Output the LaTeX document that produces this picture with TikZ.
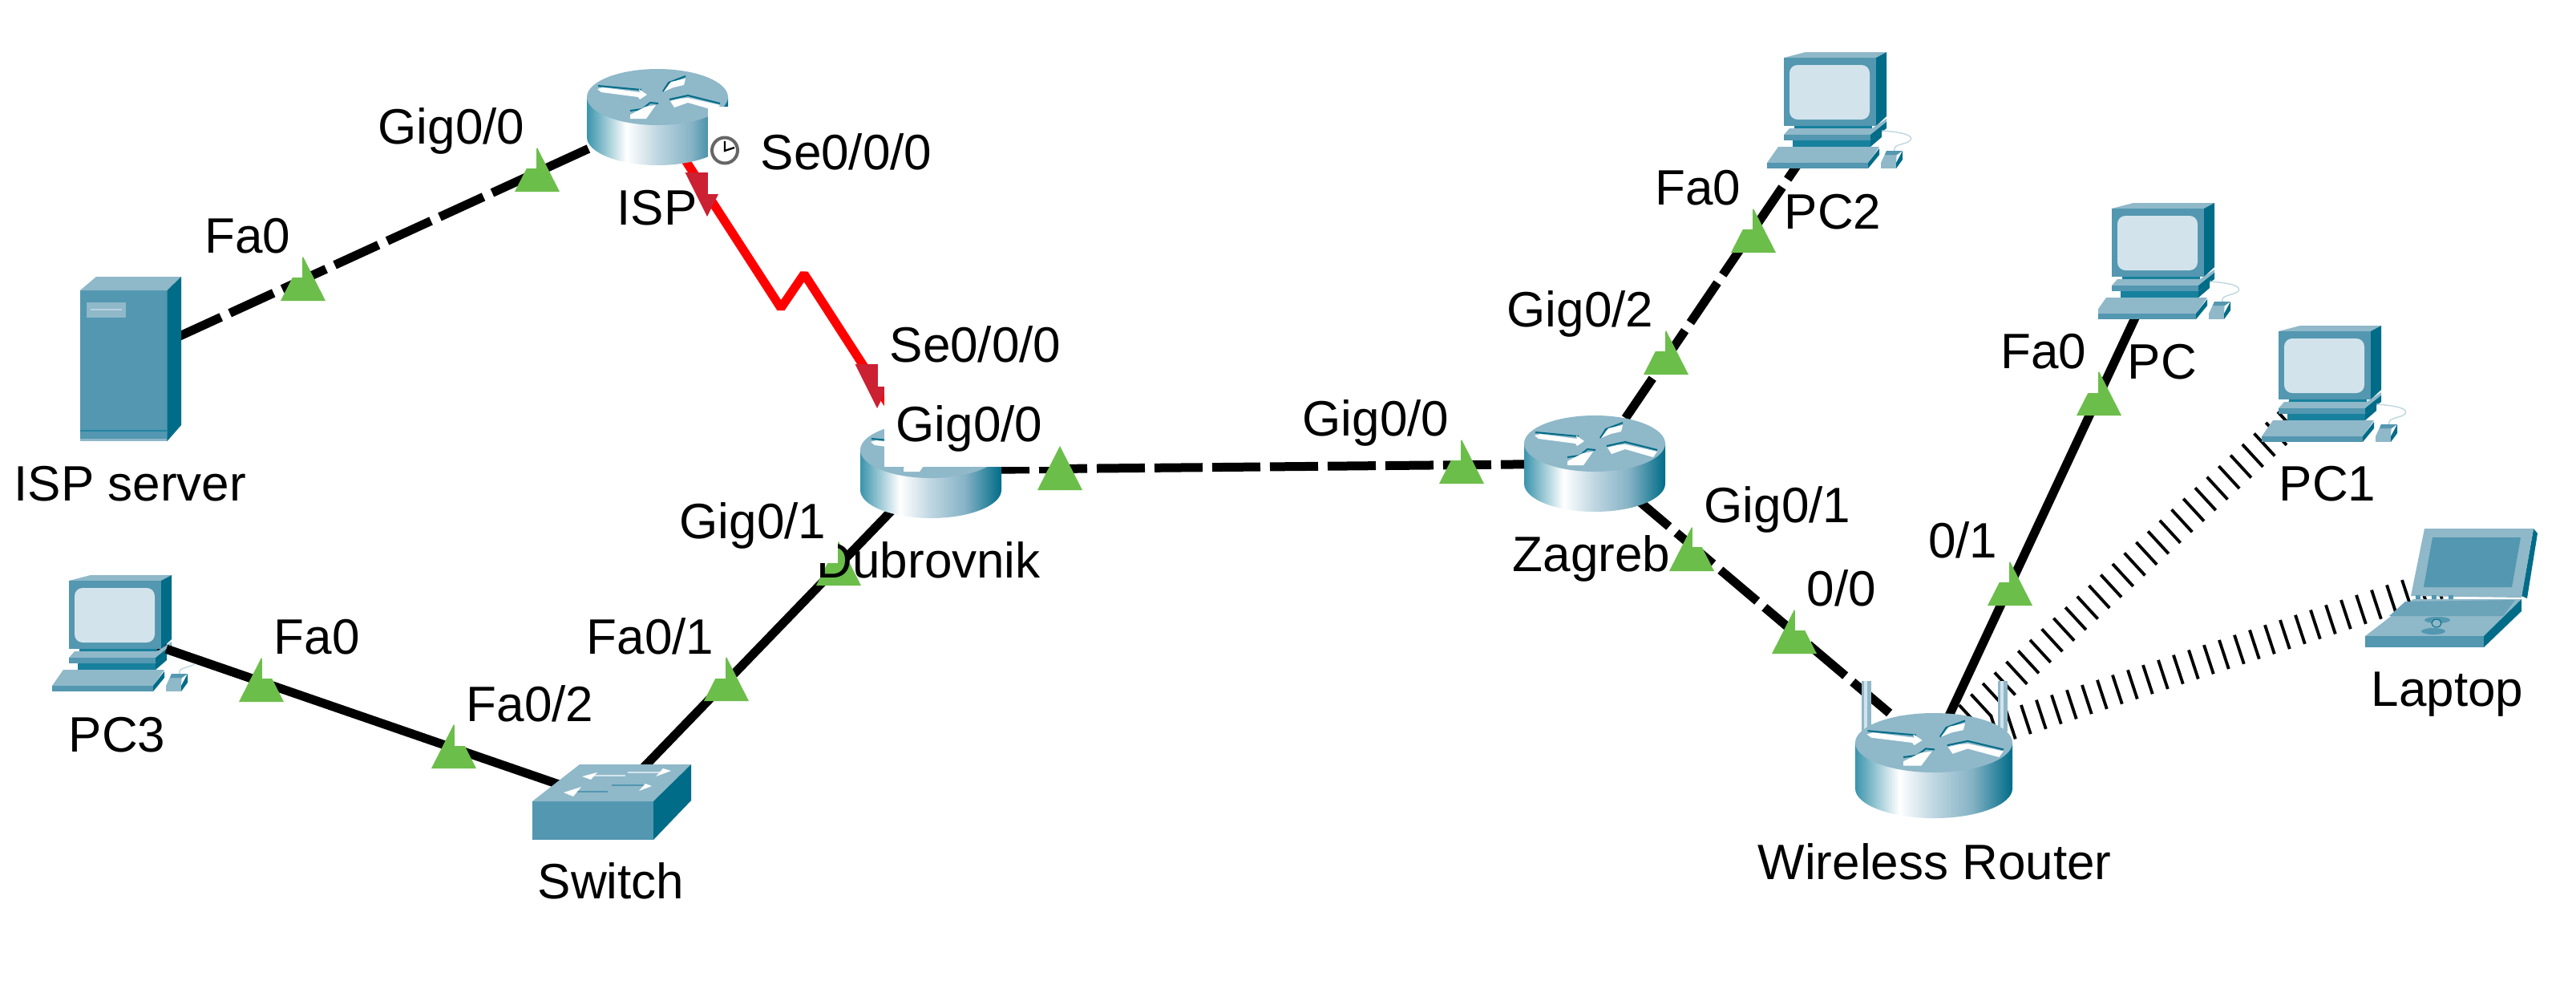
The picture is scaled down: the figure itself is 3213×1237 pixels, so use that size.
\documentclass[tikz,border=0pt]{standalone}
\usepackage{fontspec}
\setmainfont{Liberation Sans}
\usetikzlibrary{calc}
\definecolor{cLight}{HTML}{8FB8C9}
\definecolor{cMid}{HTML}{5397B0}
\definecolor{cDark}{HTML}{006C88}
\definecolor{cNeck}{HTML}{17819D}
\definecolor{cScreen}{HTML}{D3E3EB}
\definecolor{cCord}{HTML}{BCD6DF}
\definecolor{cGreen}{HTML}{6CBE4B}
\definecolor{cRed}{HTML}{CC2033}
\definecolor{cKey}{HTML}{6BA3B9}
\pgfdeclarehorizontalshading{routerbody}{100bp}{
  color(0bp)=(cNeck!85!white); color(25bp)=(cNeck!85!white); color(39bp)=(white);
  color(50bp)=(cScreen!70!cLight); color(62bp)=(cLight!85!cMid); color(75bp)=(cDark); color(100bp)=(cDark)}
\tikzset{
  devnode/.style={inner sep=0pt,minimum size=0pt,outer sep=0pt},
  cable/.style={line width=3.3pt,black},
  cross/.style={cable,dash pattern=on 18pt off 3.6pt},
  wireless/.style={line width=11.4pt,black,dash pattern=on 1.15pt off 4.85pt},
  serial/.style={line width=3.3pt,red,line join=bevel},
  lab/.style={fill=white,inner xsep=4.5pt,inner ysep=0pt,text height=23.4pt,text depth=9.3pt,
    font=\fontsize{18.6}{22}\selectfont},
  devlabel/.style={inner sep=0pt,anchor=base west,font=\fontsize{18.6}{22}\selectfont},
  pics/pcart/.style={code={
    \fill[cLight] (0,7)--(27,0)--(128,0)--(115,7)--cycle;
    \fill[cMid] (0,7) rectangle (115,92);
    \fill[cDark] (115,7)--(128,0)--(128,80)--(115,92)--cycle;
    \fill[cScreen,rounded corners=3pt] (7,16) rectangle (107,84);
    \fill[cNeck] (13,92) rectangle (110,97);
    \fill[cLight] (7,95)--(110,95)--(128,83)--(128,88)--(108,103)--(0,103)--cycle;
    \fill[cMid] (0,103) rectangle (108,110);
    \fill[cDark] (108,110)--(108,103)--(128,87)--(128,95)--cycle;
    \fill[cNeck] (11,110) rectangle (108,118);
    \fill[cDark] (108,110)--(122,99)--(122,106)--(108,118)--cycle;
    \draw[cCord,line width=0.4pt] (122,98) .. controls (155,100) and (165,106) .. (155,112) .. controls (145,116) and (136,116) .. (138,123);
    \fill[cLight] (-7,118)--(119,118)--(105,138)--(-21,138)--cycle;
    \fill[cMid] (-21,138) rectangle (105,145);
    \fill[cDark] (105,138)--(119,120)--(119,128)--(105,145)--cycle;
    \fill[cLight] (128,123)--(141,123)--(140,138)--(121,138)--cycle;
    \fill[cLight] (121,138) rectangle (140,145);
    \fill[cDark] (140,138)--(148,123)--(148,134)--(140,145)--cycle;
    \fill[cMid] (128,123)--(148,123)--(141,128)--(126,128)--cycle;
  }},
  pics/greentri/.style={code={
    \fill[cGreen] (0,0)--(28,55)--(-28,55)--cycle;
  }},
  pics/redtri/.style={code={
    \fill[cRed] (0,0)--(27.5,-55)--(-27.5,-55)--cycle;
  }}
}
% cx, top-ellipse cy, xscale, yscale, body height (local)
\newcommand{\rtrart}[5]{%
\begin{scope}[shift={(#1,#2)},xscale=#3,yscale=#4]
  \shade[shading=routerbody] (-88,0) -- (-88,#5) .. controls (-88,#5+19) and (-49,#5+35) .. (0,#5+35)
     .. controls (49,#5+35) and (88,#5+19) .. (88,#5) -- (88,0) -- cycle;
  \fill[cLight] (-88,0) .. controls (-88,-19) and (-49,-35) .. (0,-35) .. controls (49,-35) and (88,-19) .. (88,0)
     .. controls (88,19) and (49,35) .. (0,35) .. controls (-49,35) and (-88,19) .. (-88,0) -- cycle;
  \draw[cDark,line width=0.6pt] (-74,-14) -- (-20,-9);
  \fill[white] (-75,-10)--(-68,-12)--(-22,-6)--(-23,-10)--(-13,-3)--(-22,3)--(-24,0)--(-70,-6)--cycle;
  \draw[cDark,line width=0.6pt] (7,-7) -- (14,-18) -- (35,-26);
  \fill[white] (8,-7)--(15,-16)--(17,-19)--(35,-23)--(33,-15)--(20,-12)--cycle;
  \draw[cDark,line width=0.6pt] (15,3) -- (38,-2) -- (78,8);
  \fill[white] (16,5)--(28,2)--(38,1)--(78,10)--(73,17)--(38,7)--(21,13)--cycle;
  \draw[cDark,line width=0.6pt] (-34,17) -- (-19,15) -- (-9,7) -- (1,8);
  \fill[white] (-34,27)--(-14,27)--(-2,10)--(-15,12)--(-34,22)--cycle;
\end{scope}}
\begin{document}
\begin{tikzpicture}[x=0.3pt,y=-0.3pt]
\useasboundingbox (0,0) rectangle (3213,1237);
\fill[white] (0,0) rectangle (3213,1237);

% anchor nodes of the devices
\node[devnode] (server) at (163,447) {};
\node[devnode] (isp) at (820,146) {};
\node[devnode] (dub) at (1161,586) {};
\node[devnode] (zag) at (1989,578) {};
\node[devnode] (wr) at (2411,935) {};
\node[devnode] (sw) at (761,1000) {};
\node[devnode] (pc3) at (146,788) {};
\node[devnode] (pc2) at (2285,142) {};
\node[devnode] (pc) at (2694,330) {};
\node[devnode] (pc1) at (2902,483) {};
\node[devnode] (laptop) at (3100,709) {};
\coordinate (zigA) at (974,384);
\coordinate (zigB) at (1003,341.5);

% connectors
\draw[cross,dash phase=2.4pt] (server) -- (isp);
\draw[serial] (isp) -- (zigA) -- (zigB) -- (dub);
\draw[cross,dash phase=2.7pt] (dub) -- (zag);
\draw[cross,dash phase=1.05pt] (zag) -- (pc2);
\draw[cross,dash phase=3.15pt] (zag) -- (wr);
\draw[cable] (dub) -- (sw);
\draw[cable] (pc3) -- (sw);
\draw[cable] (wr) -- (pc);
\draw[wireless] (wr) -- (pc1);
\draw[wireless] (wr) -- (laptop);

% server
\fill[cMid] (100,362) rectangle (208.5,550);
\fill[cLight] (100,362)--(120,345)--(226,345)--(208.5,362)--cycle;
\fill[cDark] (208.5,362)--(226,345)--(226,530)--(208.5,550)--cycle;
\fill[cLight] (108,377) rectangle (157,396);
\draw[cScreen!60!cLight,line width=0.4pt] (113,386) -- (152,386);
\draw[cNeck!80!cMid,line width=0.4pt] (100,537) -- (208,537);
\fill[cLight] (100,547) rectangle (208,550);

% switch
\fill[cMid] (664,999) rectangle (815,1047);
\fill[cLight] (664,999)--(723,953)--(862,953)--(815,999)--cycle;
\fill[cDark] (815,999)--(862,953)--(862,998)--(815,1047)--cycle;
\draw[cScreen,line width=0.5pt] (737,967) -- (780,967);
\fill[white] (726,968)--(745,963)--(737,972)--cycle;
\draw[cScreen,line width=0.5pt] (783,963) -- (823,963);
\fill[white] (818,968)--(827,958)--(837,961)--cycle;
\draw[cMid,line width=0.6pt] (713,987) -- (758,987);
\fill[white] (703,988)--(725,981)--(715,993)--cycle;
\draw[cMid,line width=0.6pt] (763,979) -- (803,979);
\fill[white] (797,986)--(805,977)--(813,980)--cycle;

% laptop
\fill[cDark] (3160,659)--(3165,665)--(3152,746)--(3145,743)--cycle;
\fill[cLight] (3024,659)--(3160,659)--(3145,745)--(3007,743)--cycle;
\fill[cMid] (3034,670)--(3144,670)--(3133,732)--(3023,732)--cycle;
\fill[cLight] (3010,747)--(3145,747)--(3098,793)--(2950,793)--cycle;
\fill[cMid] (2950,793) rectangle (3098,807);
\fill[cDark] (3098,793)--(3145,747)--(3145,762)--(3098,807)--cycle;
\fill[cKey] (3000,750)--(3137,748)--(3122,768)--(2980,768)--cycle;
\fill[cMid] (3013,742) rectangle (3019,747);
\fill[cMid] (3033,742) rectangle (3039,747);
\fill[cMid] (3054,742) rectangle (3060,747);
\fill[cMid] (3040,773) ellipse [x radius=16,y radius=4];
\fill[cMid] (3035,787) ellipse [x radius=15,y radius=4];
\fill[cLight] (3039,777) ellipse [x radius=6,y radius=5];
\draw[cDark,line width=0.3pt] (3039,777) ellipse [x radius=6,y radius=5];

% PCs
\pic at (2225,65) {pcart};
\pic at (2634,253) {pcart};
\pic at (2842,406) {pcart};
\pic at (86,717) {pcart};
% the PC3 cable lies over that PC's mouse cord
\draw[cable] ($(pc3)!0.1!(sw)$) -- ($(pc3)!0.3!(sw)$);

% routers
\rtrart{820}{121}{1}{1}{50}
\rtrart{1161}{561}{1}{1}{50}
\rtrart{1989}{553}{1}{1}{50}
\fill[cLight] (2322,849) rectangle (2334,912);
\fill[cScreen] (2325,849) rectangle (2329,912);
\fill[cLight] (2492,849) rectangle (2504,912);
\fill[cScreen] (2495,849) rectangle (2499,912);
\rtrart{2412}{926}{1.114}{1.057}{54}

% port triangles
\pic at (378,320) {greentri};
\pic at (670,184) {greentri};
\pic at (1046,675) {greentri};
\pic at (906,819) {greentri};
\pic at (326,820) {greentri};
\pic at (566,903) {greentri};
\pic at (1823,548) {greentri};
\pic at (2078,412) {greentri};
\pic at (2187,260) {greentri};
\pic at (2110,657) {greentri};
\pic at (2238,760) {greentri};
\pic at (2507,700) {greentri};
\pic at (2618,463) {greentri};
\pic at (882,270) {redtri};
\pic at (1094,509) {redtri};

% device labels
\node[devlabel] (lISP) at (769,280) {ISP};
\node[devlabel] (lServer) at (17,624) {ISP server};
\node[devlabel] (lDub) at (1018,720) {Dubrovnik};
\node[devlabel] (lZag) at (1886,712) {Zagreb};
\node[devlabel] (lPC3) at (85,937) {PC3};
\node[devlabel] (lSw) at (670,1120) {Switch};
\node[devlabel] (lPC2) at (2225,285) {PC2};
\node[devlabel] (lPC) at (2653,472) {PC};
\node[devlabel] (lPC1) at (2842,624) {PC1};
\node[devlabel] (lLap) at (2957,880) {Laptop};
\node[devlabel] (lWR) at (2192,1096) {Wireless Router};

% port labels
\node[lab,anchor=south east] (p1) at (378,347) {Fa0};
\node[lab,anchor=south east] (p2) at (670,211) {Gig0/0};
\node[lab,anchor=south west] (p3) at (882,243) {\hspace{15.3pt}Se0/0/0};
\node[lab,anchor=south west] (p4) at (1094,483) {Se0/0/0};
\node[lab,anchor=south west] (p5) at (1102,582.5) {Gig0/0};
\node[lab,anchor=south east] (p6) at (1046,703) {Gig0/1};
\node[lab,anchor=south east] (p7) at (906,847) {Fa0/1};
\node[lab,anchor=south west] (p8) at (326,847) {Fa0};
\node[lab,anchor=south west] (p9) at (566,931) {Fa0/2};
\node[lab,anchor=south east] (p10) at (1823,575) {Gig0/0};
\node[lab,anchor=south east] (p11) at (2078,439) {Gig0/2};
\node[lab,anchor=south east] (p12) at (2187,287) {Fa0};
\node[lab,anchor=south west] (p13) at (2110,683) {Gig0/1};
\node[lab,anchor=south west] (p14) at (2238,787) {0/0};
\node[lab,anchor=south east] (p15) at (2507,727) {0/1};
\node[lab,anchor=south east] (p16) at (2618,491) {Fa0};

\pic at (1322,556) {greentri};

% clock
\draw[gray!80!black,fill=white,line width=1.2pt] (904,187.5) circle [radius=16];
\draw[black,line width=0.7pt] (904,176) -- (904,188) -- (916,184);
\end{tikzpicture}
\end{document}
